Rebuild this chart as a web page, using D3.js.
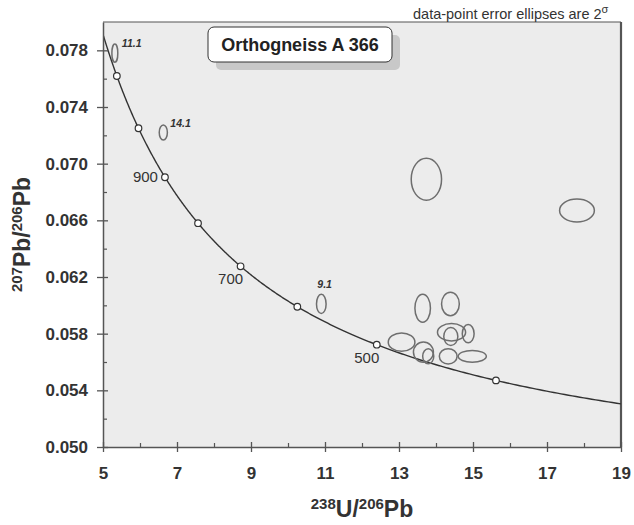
<!DOCTYPE html>
<html>
<head>
<meta charset="utf-8">
<script src="https://cdn.jsdelivr.net/npm/d3@7"></script>
<style>
  body { margin: 0; background: #fff; }
  svg { display: block; font-family: "Liberation Sans", Arial, sans-serif; }
</style>
</head>
<body>
<svg id="chart" width="634" height="525"></svg>
<script>
// concordia age marks (Ma) and which ones get a label
const concordiaAges = [400, 500, 600, 700, 800, 900, 1000, 1100];
const labelledAges = [900, 700, 500];

// data-point ellipses: 238U/206Pb, 207Pb/206Pb and their 2 sigma half-axes
const spotU = [5.32, 6.63, 10.90, 13.74, 17.81, 13.64, 14.39, 14.42, 14.40, 14.87, 13.07, 13.66, 13.79, 14.33, 14.98];
const spotPb = [0.0778, 0.0722, 0.0601, 0.0689, 0.0667, 0.0598, 0.0601, 0.0581, 0.0578, 0.0580, 0.0574, 0.0567, 0.0564, 0.0564, 0.0564];
const spotUErr = [0.08, 0.11, 0.13, 0.41, 0.47, 0.21, 0.24, 0.38, 0.19, 0.16, 0.36, 0.27, 0.15, 0.24, 0.38];
const spotPbErr = [0.00064, 0.00053, 0.00068, 0.00148, 0.00081, 0.00099, 0.00083, 0.00061, 0.00064, 0.00064, 0.00065, 0.00071, 0.00053, 0.00054, 0.00042];
const spotLabels = ["11.1", "14.1", "9.1", "", "", "", "", "", "", "", "", "", "", "", ""];

const xTicks = [5, 7, 9, 11, 13, 15, 17, 19];
const xMinor = [6, 8, 10, 12, 14, 16, 18];
const yTicks = [0.050, 0.054, 0.058, 0.062, 0.066, 0.070, 0.074, 0.078];
const yMinor = [0.052, 0.056, 0.060, 0.064, 0.068, 0.072, 0.076];

// decay constants (per year)
const L238 = 1.55125e-10, L235 = 9.8485e-10, U238_235 = 137.88;
const twU = t => 1 / (Math.exp(L238 * t * 1e6) - 1);
const twPb = t => (Math.exp(L235 * t * 1e6) - 1) / (Math.exp(L238 * t * 1e6) - 1) / U238_235;

const svg = d3.select("#chart");
const margin = { top: 22, right: 13, bottom: 78, left: 103 };
const W = 634, H = 525;

const x = d3.scaleLinear().domain([5, 19]).range([margin.left, W - margin.right]);
const y = d3.scaleLinear().domain([0.050, 0.080]).range([H - margin.bottom, margin.top]);

// plot background
svg.append("rect")
    .attr("x", margin.left).attr("y", margin.top)
    .attr("width", x(19) - x(5)).attr("height", y(0.050) - y(0.080))
    .attr("fill", "#ececec");

// top and right frame
svg.append("line").attr("x1", x(5)).attr("x2", x(19)).attr("y1", y(0.080)).attr("y2", y(0.080))
    .attr("stroke", "#555").attr("stroke-width", 1.2);
svg.append("line").attr("x1", x(19)).attr("x2", x(19)).attr("y1", y(0.080)).attr("y2", y(0.050))
    .attr("stroke", "#555").attr("stroke-width", 2.2);

const clip = svg.append("clipPath").attr("id", "plotClip").append("rect")
    .attr("x", margin.left).attr("y", margin.top)
    .attr("width", x(19) - x(5)).attr("height", y(0.050) - y(0.080));

// title box with shadow
const box = { x: 208, y: 27, w: 184, h: 35 };
svg.append("rect").attr("x", box.x + 8).attr("y", box.y + 8).attr("width", box.w).attr("height", box.h)
    .attr("rx", 5).attr("fill", "#c8c8c8");
svg.append("rect").attr("x", box.x).attr("y", box.y).attr("width", box.w).attr("height", box.h)
    .attr("rx", 6).attr("fill", "#fff").attr("stroke", "#333").attr("stroke-width", 1);
svg.append("text").attr("x", box.x + box.w / 2).attr("y", box.y + 24)
    .attr("text-anchor", "middle").attr("font-size", 18).attr("font-weight", "bold").attr("fill", "#222")
    .text("Orthogneiss A 366");

// concordia curve
const tMin = Math.log(1 + 1 / 19) / L238 / 1e6;
const tMax = Math.log(1 + 1 / 5) / L238 / 1e6;
const curveAges = d3.range(tMin, tMax, 2).concat([tMax]);
const plot = svg.append("g").attr("clip-path", "url(#plotClip)");

plot.append("path")
    .datum(curveAges)
    .attr("fill", "none").attr("stroke", "#333").attr("stroke-width", 1.4)
    .attr("d", d3.line().x(t => x(twU(t))).y(t => y(twPb(t))));

// ellipses
plot.append("g").selectAll("ellipse")
    .data(spotU.map((u, i) => ({ u, pb: spotPb[i], du: spotUErr[i], dpb: spotPbErr[i] })))
    .join("ellipse")
    .attr("cx", d => x(d.u)).attr("cy", d => y(d.pb))
    .attr("rx", d => x(d.u + d.du) - x(d.u))
    .attr("ry", d => y(d.pb) - y(d.pb + d.dpb))
    .attr("fill", "none").attr("stroke", "#6e6e6e").attr("stroke-width", 1.5);

// age markers
plot.append("g").selectAll("circle")
    .data(concordiaAges)
    .join("circle")
    .attr("cx", t => x(twU(t))).attr("cy", t => y(twPb(t)))
    .attr("r", 3.3)
    .attr("fill", "#fff").attr("stroke", "#333").attr("stroke-width", 1.2);

svg.append("g").selectAll("text")
    .data(labelledAges)
    .join("text")
    .attr("x", t => x(twU(t)) - (t === 900 ? 7 : 10))
    .attr("y", t => y(twPb(t)) + (t === 900 ? 5 : 18))
    .attr("text-anchor", t => t === 900 ? "end" : "middle")
    .attr("font-size", 15).attr("fill", "#333")
    .text(t => t);

// spot labels
svg.append("g").selectAll("text")
    .data(spotLabels.map((s, i) => ({ s, i })).filter(d => d.s))
    .join("text")
    .attr("x", d => x(spotU[d.i]) + (d.s === "9.1" ? -4 : 7))
    .attr("y", d => y(spotPb[d.i]) - (d.s === "9.1" ? 16 : 6))
    .attr("font-size", 10.5).attr("font-weight", "bold").attr("font-style", "italic").attr("fill", "#333")
    .text(d => d.s);

// y axis
const yAxis = svg.append("g").attr("transform", `translate(${margin.left},0)`)
    .call(d3.axisLeft(y).tickValues(yTicks).tickFormat(d3.format(".3f")).tickSize(6).tickPadding(9).tickSizeOuter(0));
yAxis.selectAll(".tick line").attr("x1", 5);
yAxis.select(".domain").attr("stroke", "#555").attr("stroke-width", 1.5);
yAxis.selectAll(".tick line").attr("stroke", "#555").attr("stroke-width", 1.3);
yAxis.selectAll("text").attr("font-size", 17).attr("font-weight", "bold").attr("fill", "#333")
    .attr("font-family", "Liberation Sans, Arial, sans-serif");

svg.append("g").attr("transform", `translate(${margin.left},0)`)
    .call(d3.axisRight(y).tickValues(yMinor).tickSize(4).tickFormat(""))
    .call(g => g.select(".domain").remove())
    .selectAll("line").attr("stroke", "#555").attr("stroke-width", 1.2);

// x axis
const xAxis = svg.append("g").attr("transform", `translate(0,${H - margin.bottom})`)
    .call(d3.axisBottom(x).tickValues(xTicks).tickSize(5).tickPadding(15).tickSizeOuter(0));
xAxis.selectAll(".tick line").attr("y1", -5);
xAxis.select(".domain").attr("stroke", "#555").attr("stroke-width", 1.5);
xAxis.selectAll(".tick line").attr("stroke", "#555").attr("stroke-width", 1.3);
xAxis.selectAll("text").attr("font-size", 17).attr("font-weight", "bold").attr("fill", "#333")
    .attr("font-family", "Liberation Sans, Arial, sans-serif");

svg.append("g").attr("transform", `translate(0,${H - margin.bottom})`)
    .call(d3.axisTop(x).tickValues(xMinor).tickSize(4).tickFormat(""))
    .call(g => g.select(".domain").remove())
    .selectAll("line").attr("stroke", "#555").attr("stroke-width", 1.2);

// axis titles
const xTitle = svg.append("text")
    .attr("x", (x(5) + x(19)) / 2).attr("y", 517)
    .attr("text-anchor", "middle").attr("font-weight", "bold").attr("fill", "#333").attr("font-size", 23);
xTitle.append("tspan").attr("font-size", 15).attr("dy", 0).attr("baseline-shift", "super").text("238");
xTitle.append("tspan").text("U/");
xTitle.append("tspan").attr("font-size", 15).attr("baseline-shift", "super").text("206");
xTitle.append("tspan").text("Pb");

const yTitle = svg.append("text")
    .attr("transform", `translate(30,${(y(0.050) + y(0.080)) / 2}) rotate(-90)`)
    .attr("text-anchor", "middle").attr("font-weight", "bold").attr("fill", "#333").attr("font-size", 23);
yTitle.append("tspan").attr("font-size", 15).attr("baseline-shift", "super").text("207");
yTitle.append("tspan").text("Pb/");
yTitle.append("tspan").attr("font-size", 15).attr("baseline-shift", "super").text("206");
yTitle.append("tspan").text("Pb");

// error note
const note = svg.append("text").attr("x", 413).attr("y", 19)
    .attr("font-size", 14.5).attr("fill", "#333");
note.append("tspan").text("data-point error ellipses are 2");
note.append("tspan").attr("font-size", 11).attr("baseline-shift", "super").text("σ");
</script>
</body>
</html>
